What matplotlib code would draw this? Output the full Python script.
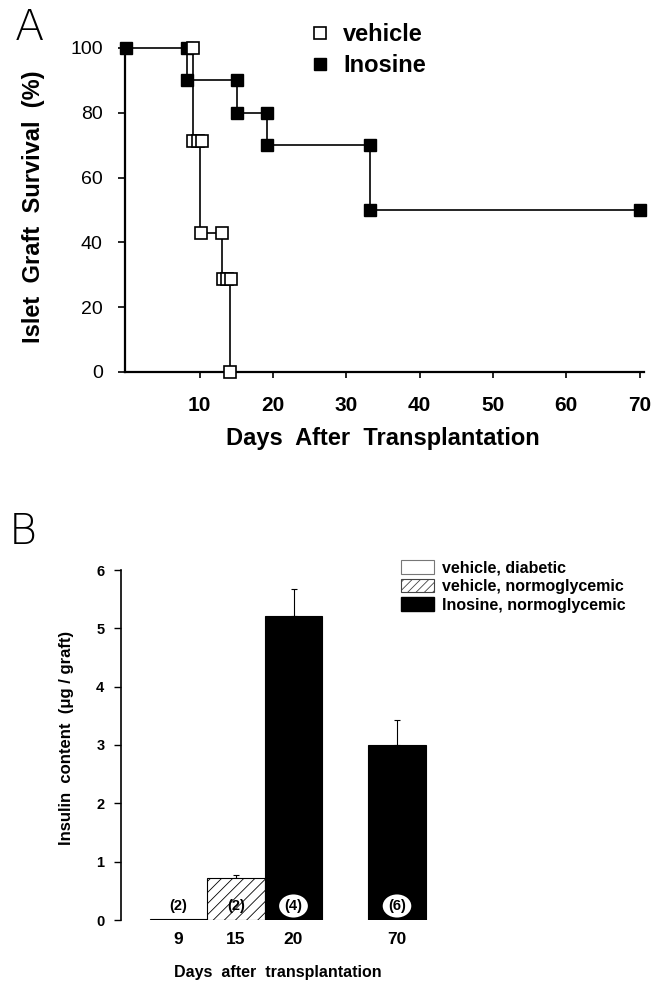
import matplotlib
matplotlib.use('Agg')
import matplotlib.pyplot as plt
from matplotlib.patches import Patch
from matplotlib.lines import Line2D

plt.rcParams['font.family'] = ['Liberation Sans', 'DejaVu Sans']
plt.rcParams['hatch.linewidth'] = 0.6

# --- panel A: Kaplan-Meier style survival (step points)
ino_day = [0, 8.2, 8.2, 15.1, 15.1, 19.2, 19.2, 33.2, 33.2, 70.1]
ino_surv = [100, 100, 90, 90, 80, 80, 70, 70, 50, 50]
veh_line_day = [9.1, 9.1, 10.0, 10.0, 13.1, 13.1, 14.1, 14.1]
veh_line_surv = [100, 71.4, 71.4, 42.9, 42.9, 28.6, 28.6, 0]
veh_mark_day = [9.1, 9.1, 9.7, 10.3, 10.1, 13.1, 13.2, 13.7, 14.2, 14.1]
veh_mark_surv = [100, 71.4, 71.4, 71.4, 42.9, 42.9, 28.6, 28.6, 28.6, 0]
a_xticks = [10, 20, 30, 40, 50, 60, 70]
a_yticks = [0, 20, 40, 60, 80, 100]

# --- panel B: insulin content per graft
b_days = ['9', '15', '20', '70']
insulin = [0.02, 0.72, 5.22, 3.00]
insulin_err = [0.0, 0.05, 0.45, 0.43]
n_grafts = ['(2)', '(2)', '(4)', '(6)']
b_groups = ['vehicle, diabetic', 'vehicle, normoglycemic',
            'Inosine, normoglycemic', 'Inosine, normoglycemic']
b_pos = [1, 2, 3, 4.8]

W, H = 659, 986
fig = plt.figure(figsize=(W / 100, H / 100), dpi=100)

# ---------------- A
axA = fig.add_axes([125 / W, 1 - 372 / H, 519 / W, 324 / H])
axA.plot(ino_day, ino_surv, color='black', lw=1.2, marker='s', ms=8.5,
         mfc='black', mec='black', clip_on=False, zorder=3)
axA.plot(veh_line_day, veh_line_surv, color='black', lw=1.2, zorder=2,
         clip_on=False)
axA.plot(veh_mark_day, veh_mark_surv, ls='none', marker='s', ms=8.5,
         mfc='white', mec='black', mew=1.2, clip_on=False, zorder=4)
axA.set_xlim(-0.2, 70.6)
axA.set_ylim(0, 100)
axA.set_xticks(a_xticks)
axA.set_yticks(a_yticks)
for s in ['top', 'right']:
    axA.spines[s].set_visible(False)
for s in ['left', 'bottom']:
    axA.spines[s].set_linewidth(1.6)
axA.tick_params(axis='y', direction='out', length=5, width=1.2, pad=11,
                labelsize=14)
axA.tick_params(axis='x', direction='out', length=4, width=1.2, pad=13,
                labelsize=15)
for t in axA.get_xticklabels():
    t.set_fontweight('bold')

legA = [Line2D([], [], ls='none', marker='s', ms=9, mfc='white', mec='black',
               mew=1.2),
        Line2D([], [], ls='none', marker='s', ms=9, mfc='black', mec='black')]
fig.legend(legA, ['vehicle', 'Inosine'], loc='upper left',
           bbox_to_anchor=(296 / W, 1 - 11 / H), frameon=False, borderpad=0,
           handlelength=1.0, handletextpad=0.5, labelspacing=0.35,
           prop=dict(weight='bold', size=17))

fig.text(34 / W, 1 - 207 / H, 'Islet  Graft  Survival  (%)', rotation=90,
         ha='center', va='center', fontsize=17, fontweight='bold')
fig.text(383 / W, 1 - 438 / H, 'Days  After  Transplantation',
         ha='center', va='center', fontsize=17, fontweight='bold')
fig.text(29 / W, 1 - 27 / H, 'A', ha='center', va='center', fontsize=31,
         family='DejaVu Sans', fontweight='light')

# ---------------- B
axB = fig.add_axes([121 / W, 1 - 920 / H, 345 / W, 350 / H])
fills = ['white', 'white', 'black', 'black']
hatches = ['', '///', '', '']
for i in range(len(b_days)):
    axB.bar(b_pos[i], insulin[i], width=1.0, color=fills[i],
            edgecolor='black', lw=0.8, hatch=hatches[i], zorder=2)
err_idx = [i for i in range(len(b_days)) if insulin_err[i] > 0]
axB.errorbar([b_pos[i] for i in err_idx], [insulin[i] for i in err_idx],
             yerr=[[0] * len(err_idx), [insulin_err[i] for i in err_idx]],
             fmt='none', ecolor='black', elinewidth=0.8, capsize=2.5,
             capthick=0.8, zorder=1)
for i in range(len(b_days)):
    box = None
    if fills[i] == 'black':
        box = dict(boxstyle='ellipse,pad=0.08', fc='white', ec='none')
    axB.text(b_pos[i], 0.24, n_grafts[i], ha='center', va='center',
             fontsize=10.5, fontweight='bold', color='black', zorder=5,
             bbox=box)
axB.set_xlim(0, 6)
axB.set_ylim(0, 6)
axB.set_yticks(range(7))
axB.set_xticks(b_pos)
axB.set_xticklabels(b_days)
for s in ['top', 'right', 'bottom']:
    axB.spines[s].set_visible(False)
axB.spines['left'].set_linewidth(1.2)
axB.tick_params(axis='y', direction='out', length=5, width=1.0, pad=7,
                labelsize=10.5)
axB.tick_params(axis='x', length=0, pad=9, labelsize=12.5)
for t in axB.get_xticklabels() + axB.get_yticklabels():
    t.set_fontweight('bold')

legB = [Patch(fc='white', ec='#777777', lw=0.8),
        Patch(fc='white', ec='#444444', lw=0.8, hatch='////'),
        Patch(fc='black', ec='black')]
fig.legend(legB, b_groups[:3], loc='upper left',
           bbox_to_anchor=(393 / W, 1 - 552 / H), frameon=False, borderpad=0,
           handlelength=2.05, handleheight=0.95, handletextpad=0.5,
           labelspacing=0.2, prop=dict(weight='bold', size=11.5))

fig.text(67 / W, 1 - 738 / H, 'Insulin  content  (\u03bcg / graft)',
         rotation=90, ha='center', va='center', fontsize=12,
         fontweight='bold')
fig.text(278 / W, 1 - 972 / H, 'Days  after  transplantation',
         ha='center', va='center', fontsize=11.5, fontweight='bold')
fig.text(23 / W, 1 - 532 / H, 'B', ha='center', va='center', fontsize=31,
         family='DejaVu Sans', fontweight='light')

fig.savefig('out.png', dpi=100)
